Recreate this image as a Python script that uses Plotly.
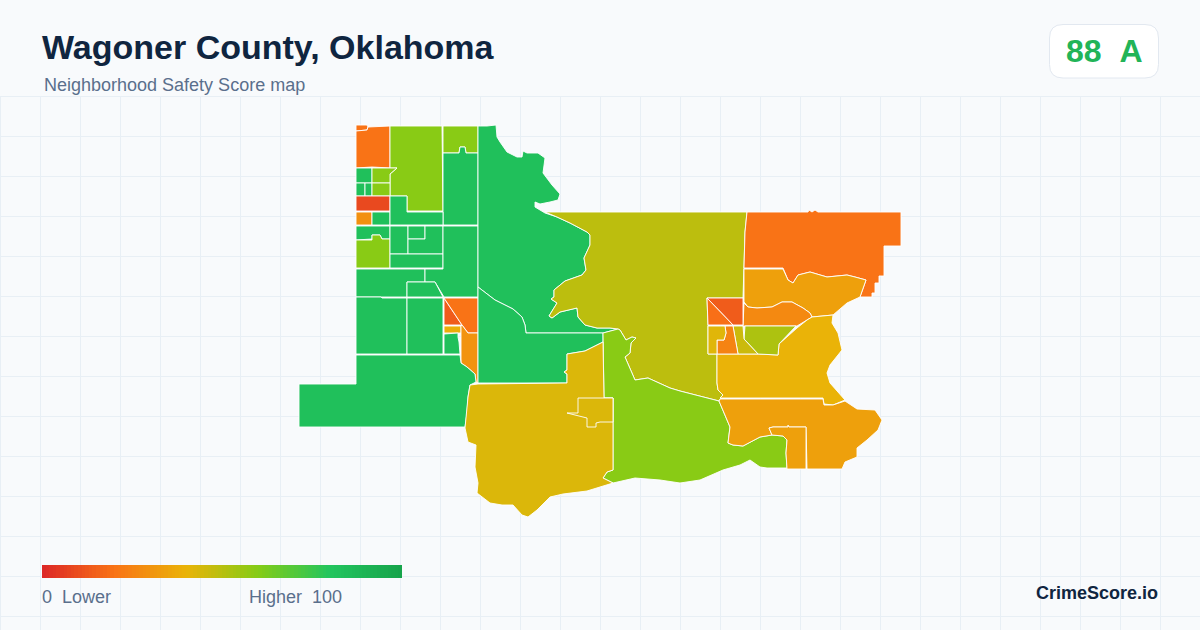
import plotly.graph_objects as go
from plotly.colors import hex_to_rgb

# pixel outlines of the tracts
nw_notch = [(356,125),(367,125),(368,127),(367,130),(356,131)]
nw_orange = [(356,131),(367,130),(368,127),(390,126),(390,168),(372,167),(356,168)]
nw_lime = [(390,126),(442,126),(443,211),(407,211),(407,196),(390,196),(390,174),(397,168),(390,168)]
top_lime = [(443,126),(478,126),(478,153),(466,153),(465,147),(460,147),(459,153),(443,153)]
col_green = [(443,153),(459,153),(460,147),(465,147),(466,153),(478,153),(478,225),(443,225)]
small_a = [(356,168),(372,168),(372,183),(356,183)]
small_lime_a = [(372,168),(397,168),(390,174),(390,183),(372,183)]
small_b = [(356,183),(365,183),(365,196),(356,196)]
small_c = [(365,183),(372,183),(372,196),(365,196)]
small_lime_b = [(372,183),(390,183),(390,196),(372,196)]
red_bar = [(356,196),(390,196),(390,211),(356,211)]
orange_box = [(356,212),(372,212),(372,225),(356,225)]
small_d = [(372,212),(390,212),(390,225),(372,225)]
step_green = [(390,196),(407,196),(407,212),(443,212),(443,225),(390,225)]
row_green = [(356,226),(390,226),(390,239),(382,239),(380,235),(372,235),(372,239),(356,240)]
low_lime = [(356,240),(372,240),(372,235),(380,235),(382,239),(390,239),(390,268),(356,268)]
block_a = [(390,226),(408,226),(408,254),(390,254)]
block_b = [(408,226),(425,226),(425,239),(408,239)]
block_c = [(408,239),(425,239),(425,226),(443,226),(443,254),(408,254)]
block_d = [(390,254),(443,254),(443,268),(390,268)]
wide_green = [(356,269),(425,269),(425,282),(407,282),(407,297),(381,297),(356,297)]
east_green = [(443,226),(478,226),(478,297),(444,297),(435,282),(425,282),(425,269),(443,269)]
tri_green = [(407,282),(435,282),(443,297),(407,297)]
west_green = [(356,297),(381,297),(382,298),(407,298),(407,354),(356,354)]
mid_green = [(407,298),(443,298),(443,354),(407,354)]
tri_red = [(444,298),(462,325),(444,325)]
tri_orange = [(444,298),(478,298),(478,333),(468,333),(462,325)]
amber_box = [(444,326),(461,326),(461,333),(444,333)]
tiny_green = [(444,334),(458,333),(458,337),(459,342),(460,354),(444,354)]
river_orange = [(461,326),(462,325),(468,333),(478,333),(478,383),(476,382),(475,374),(467,367),(461,363)]
sw_green = [(356,355),(460,355),(461,363),(467,367),(475,374),(476,382),(470,385),(468,397),(467,413),(465,427),(299,427),(299,384),(356,384)]
north_green = [(478,126),(487,126),(496,125),(497,137),(500,142),(507,152),(517,157),(522,157),(523,151),(526,152),(527,153),
               (538,153),(545,158),(543,173),(552,185),(560,194),(558,200),(550,202),(540,204),(535,202),(535,207),(545,213),
               (557,217),(570,223),(587,232),(590,235),(590,245),(584,258),(586,270),(582,275),(565,281),(554,290),(554,297),
               (551,299),(557,303),(549,316),(552,318),(560,312),(577,308),(578,317),(585,325),(597,328),(610,328),(618,329),
               (603,333),(526,333),(525,325),(522,317),(513,309),(495,300),(478,287)]
south_green = [(478,287),(495,300),(513,309),(522,317),(525,325),(526,333),(603,333),(603,342),(593,347),(585,351),(567,354),
               (567,370),(564,372),(567,374),(567,383),(478,383)]
olive = [(545,212),(747,212),(745,232),(744,268),(743,298),(707,298),(708,325),(708,354),(717,354),(717,383),(718,390),(723,395),
         (719,401),(680,391),(670,388),(648,378),(635,380),(625,357),(630,353),(631,343),(636,338),(632,337),(626,340),(620,330),
         (618,329),(610,328),(597,328),(585,325),(578,317),(577,308),(560,312),(552,318),(549,316),(557,303),(551,299),(554,297),
         (554,290),(565,281),(582,275),(586,270),(584,258),(590,245),(590,235),(587,232),(570,223),(557,217)]
center_lime = [(603,333),(618,329),(620,330),(626,340),(632,337),(636,338),(631,343),(630,353),(625,357),(635,380),(648,378),
               (670,388),(680,391),(719,401),(730,427),(728,443),(733,445),(743,446),(760,437),(772,435),(783,436),(787,440),
               (786,453),(787,468),(767,468),(760,467),(750,460),(740,465),(723,470),(700,480),(680,483),(660,480),(635,478),
               (613,483),(603,478),(607,472),(613,470),(613,398),(604,398)]
sw_gold = [(478,384),(567,383),(567,374),(564,372),(567,370),(567,354),(585,351),(593,347),(603,342),(604,398),(613,398),(613,470),
           (607,472),(603,478),(613,483),(587,491),(563,494),(550,497),(537,510),(528,517),(522,515),(513,505),(502,505),(490,503),
           (477,493),(478,483),(475,467),(476,445),(468,442),(465,428),(468,397),(470,385)]
gold_block = [(578,398),(613,398),(613,422),(600,422),(596,423),(596,427),(587,427),(587,418),(567,413),(578,413)]
ne_orange = [(747,212),(808,212),(809,210),(812,212),(815,210),(818,212),(901,212),(901,246),(884,246),(884,276),(879,276),(879,283),
             (875,283),(875,293),(872,293),(872,297),(860,297),(866,280),(855,277),(847,275),(827,277),(810,272),(798,275),(793,283),
             (788,280),(783,268),(744,268),(745,232)]
north_amber = [(744,269),(783,269),(788,280),(793,283),(798,275),(810,272),(827,277),(847,275),(855,277),(866,280),(860,297),(847,303),
               (833,315),(812,317),(810,313),(803,308),(792,302),(782,302),(772,307),(757,308),(748,307),(744,302)]
lens_orange = [(744,303),(748,307),(757,308),(772,307),(782,302),(792,302),(803,308),(810,313),(812,317),(807,320),(797,326),(748,326),(743,326)]
east_gold = [(812,317),(833,315),(832,323),(838,333),(842,350),(830,365),(827,373),(830,383),(845,400),(833,405),(824,404),(823,398),
             (720,398),(723,395),(718,390),(717,383),(717,354),(758,354),(778,355),(779,344),(797,328),(807,320)]
east_lime = [(745,326),(796,326),(779,344),(778,355),(758,354),(744,339)]
slim_olive = [(733,326),(743,326),(744,339),(758,354),(738,354)]
slim_orange = [(725,326),(733,326),(738,354),(717,354),(717,340),(724,340),(726,333)]
slim_gold = [(708,326),(725,326),(726,333),(724,340),(717,340),(717,354),(708,354)]
red_square = [(707,298),(743,298),(743,325),(733,325)]
red_wedge = [(707,298),(733,325),(708,325)]
se_amber = [(719,401),(720,399),(823,399),(824,405),(833,405),(845,401),(857,409),(875,410),(882,420),(878,430),(867,440),(857,448),
            (857,457),(845,462),(842,469),(807,469),(806,427),(788,427),(773,427),(769,428),(772,435),(760,437),(743,446),(733,445),
            (728,443),(730,427)]
se_block = [(772,435),(769,428),(773,427),(788,427),(788,425),(789,427),(806,427),(806,469),(787,469),(786,453),(787,440),(783,436)]

map_tracts = [
    (nw_notch, 20), (nw_orange, 20), (nw_lime, 59), (top_lime, 59), (col_green, 83),
    (small_a, 83), (small_lime_a, 59), (small_b, 83), (small_c, 83), (small_lime_b, 59),
    (red_bar, 9), (orange_box, 29), (small_d, 83), (step_green, 83), (row_green, 83),
    (low_lime, 59), (block_a, 83), (block_b, 83), (block_c, 83), (block_d, 83),
    (wide_green, 83), (east_green, 83), (tri_green, 83), (west_green, 83), (mid_green, 83),
    (tri_red, 14), (tri_orange, 20), (amber_box, 38), (tiny_green, 83), (river_orange, 30),
    (sw_green, 83), (north_green, 83), (south_green, 83), (olive, 49), (center_lime, 59),
    (sw_gold, 43), (gold_block, 43), (ne_orange, 20), (north_amber, 34), (lens_orange, 27),
    (east_gold, 40), (east_lime, 52), (slim_olive, 46), (slim_orange, 25), (slim_gold, 42),
    (red_square, 14), (red_wedge, 19), (se_amber, 34), (se_block, 34),
]

scale_stops = [0, 0.2, 0.4, 0.6, 0.8, 1]
scale_colors = ['#dc2626', '#f97316', '#eab308', '#84cc16', '#22c55e', '#16a34a']
colorscale = [[s, c] for s, c in zip(scale_stops, scale_colors)]
legend_scores = list(range(0, 101))


def score_color(score):
    t = score / 100
    for i in range(len(scale_stops) - 1):
        if t <= scale_stops[i + 1]:
            f = (t - scale_stops[i]) / (scale_stops[i + 1] - scale_stops[i])
            a, b = hex_to_rgb(scale_colors[i]), hex_to_rgb(scale_colors[i + 1])
            return 'rgb(%d,%d,%d)' % tuple(round(a[k] + (b[k] - a[k]) * f) for k in range(3))
    return scale_colors[-1]


fig = go.Figure()

# background grid, half pixel offset keeps the lines crisp
gx, gy = [], []
for x in range(0, 1201, 40):
    gx += [x + 0.5, x + 0.5, None]
    gy += [96.5, 630, None]
for y in range(96, 630, 40):
    gx += [0, 1200, None]
    gy += [y + 0.5, y + 0.5, None]
fig.add_trace(go.Scatter(x=gx, y=gy, mode='lines', line=dict(color='#e8eff5', width=1), hoverinfo='skip'))

for pts, score in map_tracts:
    xs = [p[0] for p in pts] + [pts[0][0]]
    ys = [p[1] for p in pts] + [pts[0][1]]
    fig.add_trace(go.Scatter(x=xs, y=ys, mode='lines', fill='toself', fillcolor=score_color(score),
                             line=dict(color='#ffffff', width=0.9), hoverinfo='skip'))

# legend bar on its own little axes
fig.add_trace(go.Heatmap(x=legend_scores, y=[0, 1], z=[[s + 0.5 for s in legend_scores[:-1]]],
                         zmin=0, zmax=100, colorscale=colorscale, showscale=False,
                         hoverinfo='skip', xaxis='x2', yaxis='y2'))


def label(x, y, text, size, color, anchor='left', bold=False):
    fig.add_annotation(x=x, y=y, text=f'<b>{text}</b>' if bold else text, showarrow=False, xanchor=anchor, yanchor='middle',
                       font=dict(family='Liberation Sans', size=size, color=color), xref='x', yref='y',
                       borderpad=0, borderwidth=0)


label(42, 47, 'Wagoner County, Oklahoma', 34, '#0f2540', bold=True)
label(44, 85, 'Neighborhood Safety Score map', 18, '#5a6f8c')
label(1104, 51, '88&nbsp;&nbsp;A', 32, '#22b457', anchor='center', bold=True)
label(42, 597, '0&nbsp;&nbsp;Lower', 18, '#5a6f8c')
label(342, 597, 'Higher&nbsp;&nbsp;100', 18, '#5a6f8c', anchor='right')
label(1158, 593, 'CrimeScore.io', 18, '#0f2540', anchor='right', bold=True)

# score badge
badge = ('M1063,24.5 H1145 Q1158.5,24.5 1158.5,38 V64.5 Q1158.5,78 1145,78 H1063 '
         'Q1049.5,78 1049.5,64.5 V38 Q1049.5,24.5 1063,24.5 Z')
fig.add_shape(type='path', path=badge, xref='x', yref='y', fillcolor='#ffffff',
              line=dict(color='#e2e8f0', width=1), layer='below')

fig.update_layout(
    width=1200, height=630, showlegend=False,
    margin=dict(l=0, r=0, t=0, b=0),
    paper_bgcolor='#f8fafc', plot_bgcolor='#f8fafc',
    xaxis=dict(range=[0, 1200], visible=False, domain=[0, 1]),
    yaxis=dict(range=[630, 0], visible=False, domain=[0, 1]),
    xaxis2=dict(range=[0, 100], visible=False, domain=[42 / 1200, 402 / 1200], anchor='y2'),
    yaxis2=dict(range=[0, 1], visible=False, domain=[1 - 578 / 630, 1 - 565 / 630], anchor='x2'),
)

# page has a default body margin, drop it so the figure sits at 0,0
fig.write_html("out.html", config={'displayModeBar': False},
               post_script="document.body.style.margin='0';document.body.style.overflow='hidden';")
